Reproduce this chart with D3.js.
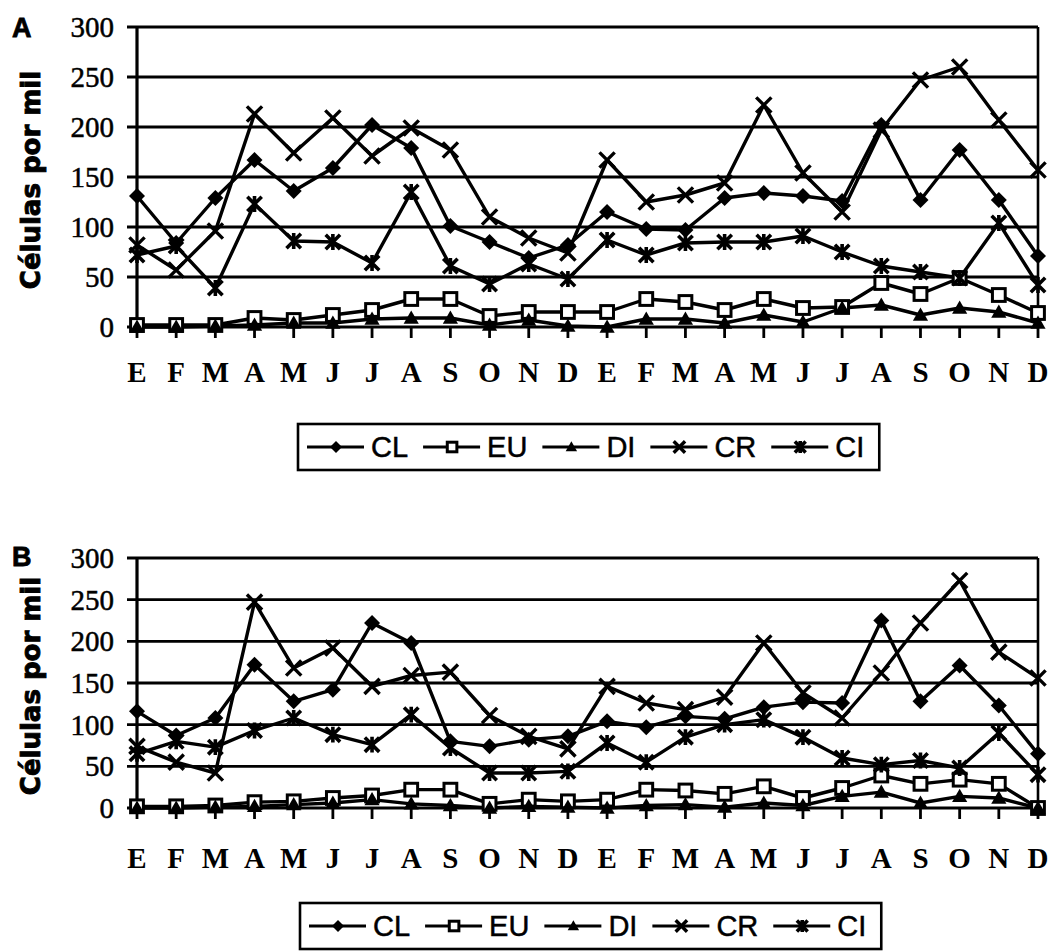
<!DOCTYPE html>
<html><head><meta charset="utf-8">
<script src="https://cdn.jsdelivr.net/npm/d3@7"></script>
<style>body{margin:0;background:#fff}</style>
</head><body>
<svg id="c" width="1052" height="952" xmlns="http://www.w3.org/2000/svg"></svg>
<script>
// ---------- DATA ----------
const months = ["E","F","M","A","M","J","J","A","S","O","N","D","E","F","M","A","M","J","J","A","S","O","N","D"];
const yTicks = [0, 50, 100, 150, 200, 250, 300];
const seriesNames = ["CL", "EU", "DI", "CR", "CI"];
const panelLabels = ["A", "B"];
const yTitle = "Células por mil";

// Panel A
const clA = [131, 84, 129, 167, 136, 159, 202, 179, 101, 85, 69, 82, 115, 98, 97, 129, 134, 131, 126, 202, 127, 177, 127, 71];
const euA = [2, 2, 2, 9, 7, 12, 17, 28, 28, 11, 15, 15, 15, 28, 25, 17, 28, 19, 20, 44, 33, 49, 32, 14];
const diA = [0, 0, 1, 2, 4, 4, 8, 9, 9, 2, 7, 1, 0, 8, 8, 4, 12, 5, 19, 22, 12, 19, 15, 4];
const crA = [82, 57, 96, 213, 174, 209, 171, 199, 177, 110, 89, 74, 167, 125, 132, 144, 222, 154, 115, 197, 247, 260, 207, 157];
const ciA = [72, 81, 39, 123, 86, 85, 64, 135, 61, 43, 63, 48, 87, 72, 84, 85, 85, 91, 75, 61, 55, 49, 104, 42];

// Panel B
const clB = [116, 87, 108, 172, 128, 142, 222, 198, 80, 74, 82, 86, 104, 97, 110, 107, 121, 127, 126, 225, 128, 171, 123, 65];
const euB = [2, 2, 3, 7, 8, 12, 15, 22, 22, 5, 10, 8, 10, 22, 21, 17, 26, 12, 24, 39, 29, 34, 29, 0];
const diB = [0, 0, 1, 2, 4, 6, 10, 5, 3, 0, 2, 1, 0, 3, 4, 1, 6, 3, 14, 19, 6, 14, 12, 0];
const crB = [74, 55, 42, 247, 168, 192, 146, 159, 163, 111, 86, 71, 146, 126, 118, 133, 198, 138, 108, 162, 222, 273, 187, 156];
const ciB = [65, 80, 73, 93, 108, 88, 76, 112, 72, 42, 42, 44, 78, 55, 85, 100, 106, 85, 60, 52, 57, 48, 90, 40];

// ---------- DRAW ----------
const svg = d3.select("#c");
const markerKinds = ["diamond", "square", "triangle", "cross", "star"];

function marker(g, kind, x, y, s) {
  if (kind === "diamond") {
    g.append("path").attr("d", `M${x},${y - s}L${x + s},${y}L${x},${y + s}L${x - s},${y}Z`).attr("fill", "#000");
  } else if (kind === "square") {
    const h = s * 0.8;
    g.append("rect").attr("x", x - h).attr("y", y - h).attr("width", 2 * h).attr("height", 2 * h)
      .attr("fill", "#fff").attr("stroke", "#000").attr("stroke-width", 3);
  } else if (kind === "triangle") {
    const h = s * 0.95;
    g.append("path").attr("d", `M${x},${y - h}L${x + h},${y + h * 0.75}L${x - h},${y + h * 0.75}Z`).attr("fill", "#000");
  } else if (kind === "cross") {
    const h = s * 0.95;
    g.append("path").attr("d", `M${x - h},${y - h}L${x + h},${y + h}M${x - h},${y + h}L${x + h},${y - h}`)
      .attr("stroke", "#000").attr("stroke-width", 3.4).attr("fill", "none");
  } else if (kind === "star") {
    const h = s * 0.9;
    g.append("path").attr("d", `M${x - h},${y - h}L${x + h},${y + h}M${x - h},${y + h}L${x + h},${y - h}M${x},${y - h * 1.1}L${x},${y + h * 1.1}`)
      .attr("stroke", "#000").attr("stroke-width", 3.6).attr("fill", "none");
  }
}

function drawPanel(cfg) {
  const g = svg.append("g");
  const x = d3.scalePoint().domain(d3.range(months.length)).range([cfg.left, cfg.right]).padding(0);
  const y = d3.scaleLinear().domain([0, 300]).range([cfg.bottom, cfg.top]);

  // gridlines (extend left as outward ticks)
  g.selectAll("line.grid").data(yTicks).join("line")
    .attr("x1", cfg.left - 10).attr("x2", cfg.right)
    .attr("y1", d => y(d)).attr("y2", d => y(d))
    .attr("stroke", "#000").attr("stroke-width", 2.8);
  // axis lines
  g.append("line").attr("x1", cfg.left).attr("x2", cfg.left).attr("y1", y(300)).attr("y2", y(0))
    .attr("stroke", "#000").attr("stroke-width", 3.2);
  g.append("line").attr("x1", cfg.right).attr("x2", cfg.right).attr("y1", y(300)).attr("y2", y(0))
    .attr("stroke", "#000").attr("stroke-width", 2.6);
  // category ticks
  g.selectAll("line.xt").data(d3.range(months.length)).join("line")
    .attr("x1", d => x(d)).attr("x2", d => x(d)).attr("y1", y(0)).attr("y2", y(0) + 11)
    .attr("stroke", "#000").attr("stroke-width", 2.8);

  // y tick labels
  g.selectAll("text.yl").data(yTicks).join("text")
    .attr("x", cfg.left - 23).attr("y", d => y(d)).attr("dy", "0.35em")
    .attr("text-anchor", "end")
    .attr("font-family", "'Liberation Serif', 'Times New Roman', serif")
    .attr("font-size", 29).attr("fill", "#000")
    .attr("stroke", "#000").attr("stroke-width", 0.5)
    .text(d => d);

  // x tick labels
  g.selectAll("text.xl").data(months).join("text")
    .attr("x", (d, i) => x(i)).attr("y", cfg.xLabelY).attr("dy", "0.35em")
    .attr("text-anchor", "middle")
    .attr("font-family", "'Liberation Serif', 'Times New Roman', serif")
    .attr("font-weight", "bold")
    .attr("font-size", 29).attr("fill", "#000")
    .text(d => d);

  // y title
  g.append("text")
    .attr("transform", `translate(${cfg.titleX},${(y(0) + y(300)) / 2 + 3}) rotate(-90)`)
    .attr("text-anchor", "middle").attr("dy", "0.35em")
    .attr("font-family", "'DejaVu Sans', sans-serif").attr("font-weight", "bold")
    .attr("font-size", 26).attr("fill", "#000")
    .attr("stroke", "#000").attr("stroke-width", 0.9)
    .text(yTitle);

  // panel letter
  g.append("text").attr("x", 12).attr("y", cfg.letterY)
    .attr("font-family", "'Liberation Sans', Arial, sans-serif").attr("font-weight", "bold")
    .attr("font-size", 27).attr("fill", "#000")
    .attr("stroke", "#000").attr("stroke-width", 0.8).text(cfg.letter);

  // series
  const line = d3.line().x((d, i) => x(i)).y(d => y(d));
  cfg.series.forEach((vals) => {
    g.append("path").datum(vals).attr("d", line)
      .attr("fill", "none").attr("stroke", "#000").attr("stroke-width", 3.4).attr("stroke-linejoin", "round");
  });
  cfg.series.forEach((vals, si) => {
    const mg = g.append("g");
    vals.forEach((v, i) => marker(mg, markerKinds[si], x(i), y(v), 8));
  });

  // legend
  const lg = g.append("g");
  const box = lg.append("rect").attr("x", cfg.legX).attr("y", cfg.legY).attr("height", 46)
    .attr("fill", "#fff").attr("stroke", "#000").attr("stroke-width", 2.6);
  let cx = cfg.legX + 9;
  const cy = cfg.legY + 23;
  seriesNames.forEach((name, si) => {
    lg.append("line").attr("x1", cx).attr("x2", cx + 57).attr("y1", cy).attr("y2", cy)
      .attr("stroke", "#000").attr("stroke-width", 3.2);
    marker(lg, markerKinds[si], cx + 29, cy, 6);
    const t = lg.append("text").attr("x", cx + 64).attr("y", cy).attr("dy", "0.36em")
      .attr("font-family", "'Liberation Sans', Arial, sans-serif")
      .attr("font-size", 29).attr("fill", "#000")
      .attr("stroke", "#000").attr("stroke-width", 0.5).text(name);
    cx += 64 + t.node().getComputedTextLength() + 15;
  });
  box.attr("width", cx - cfg.legX);
}

drawPanel({
  letter: panelLabels[0], left: 137, right: 1038, top: 27, bottom: 327,
  xLabelY: 372, titleX: 31, letterY: 37, legX: 298, legY: 424,
  series: [clA, euA, diA, crA, ciA]
});
drawPanel({
  letter: panelLabels[1], left: 137, right: 1038, top: 558, bottom: 808,
  xLabelY: 858, titleX: 31, letterY: 566, legX: 300, legY: 903,
  series: [clB, euB, diB, crB, ciB]
});
</script>
</body></html>
